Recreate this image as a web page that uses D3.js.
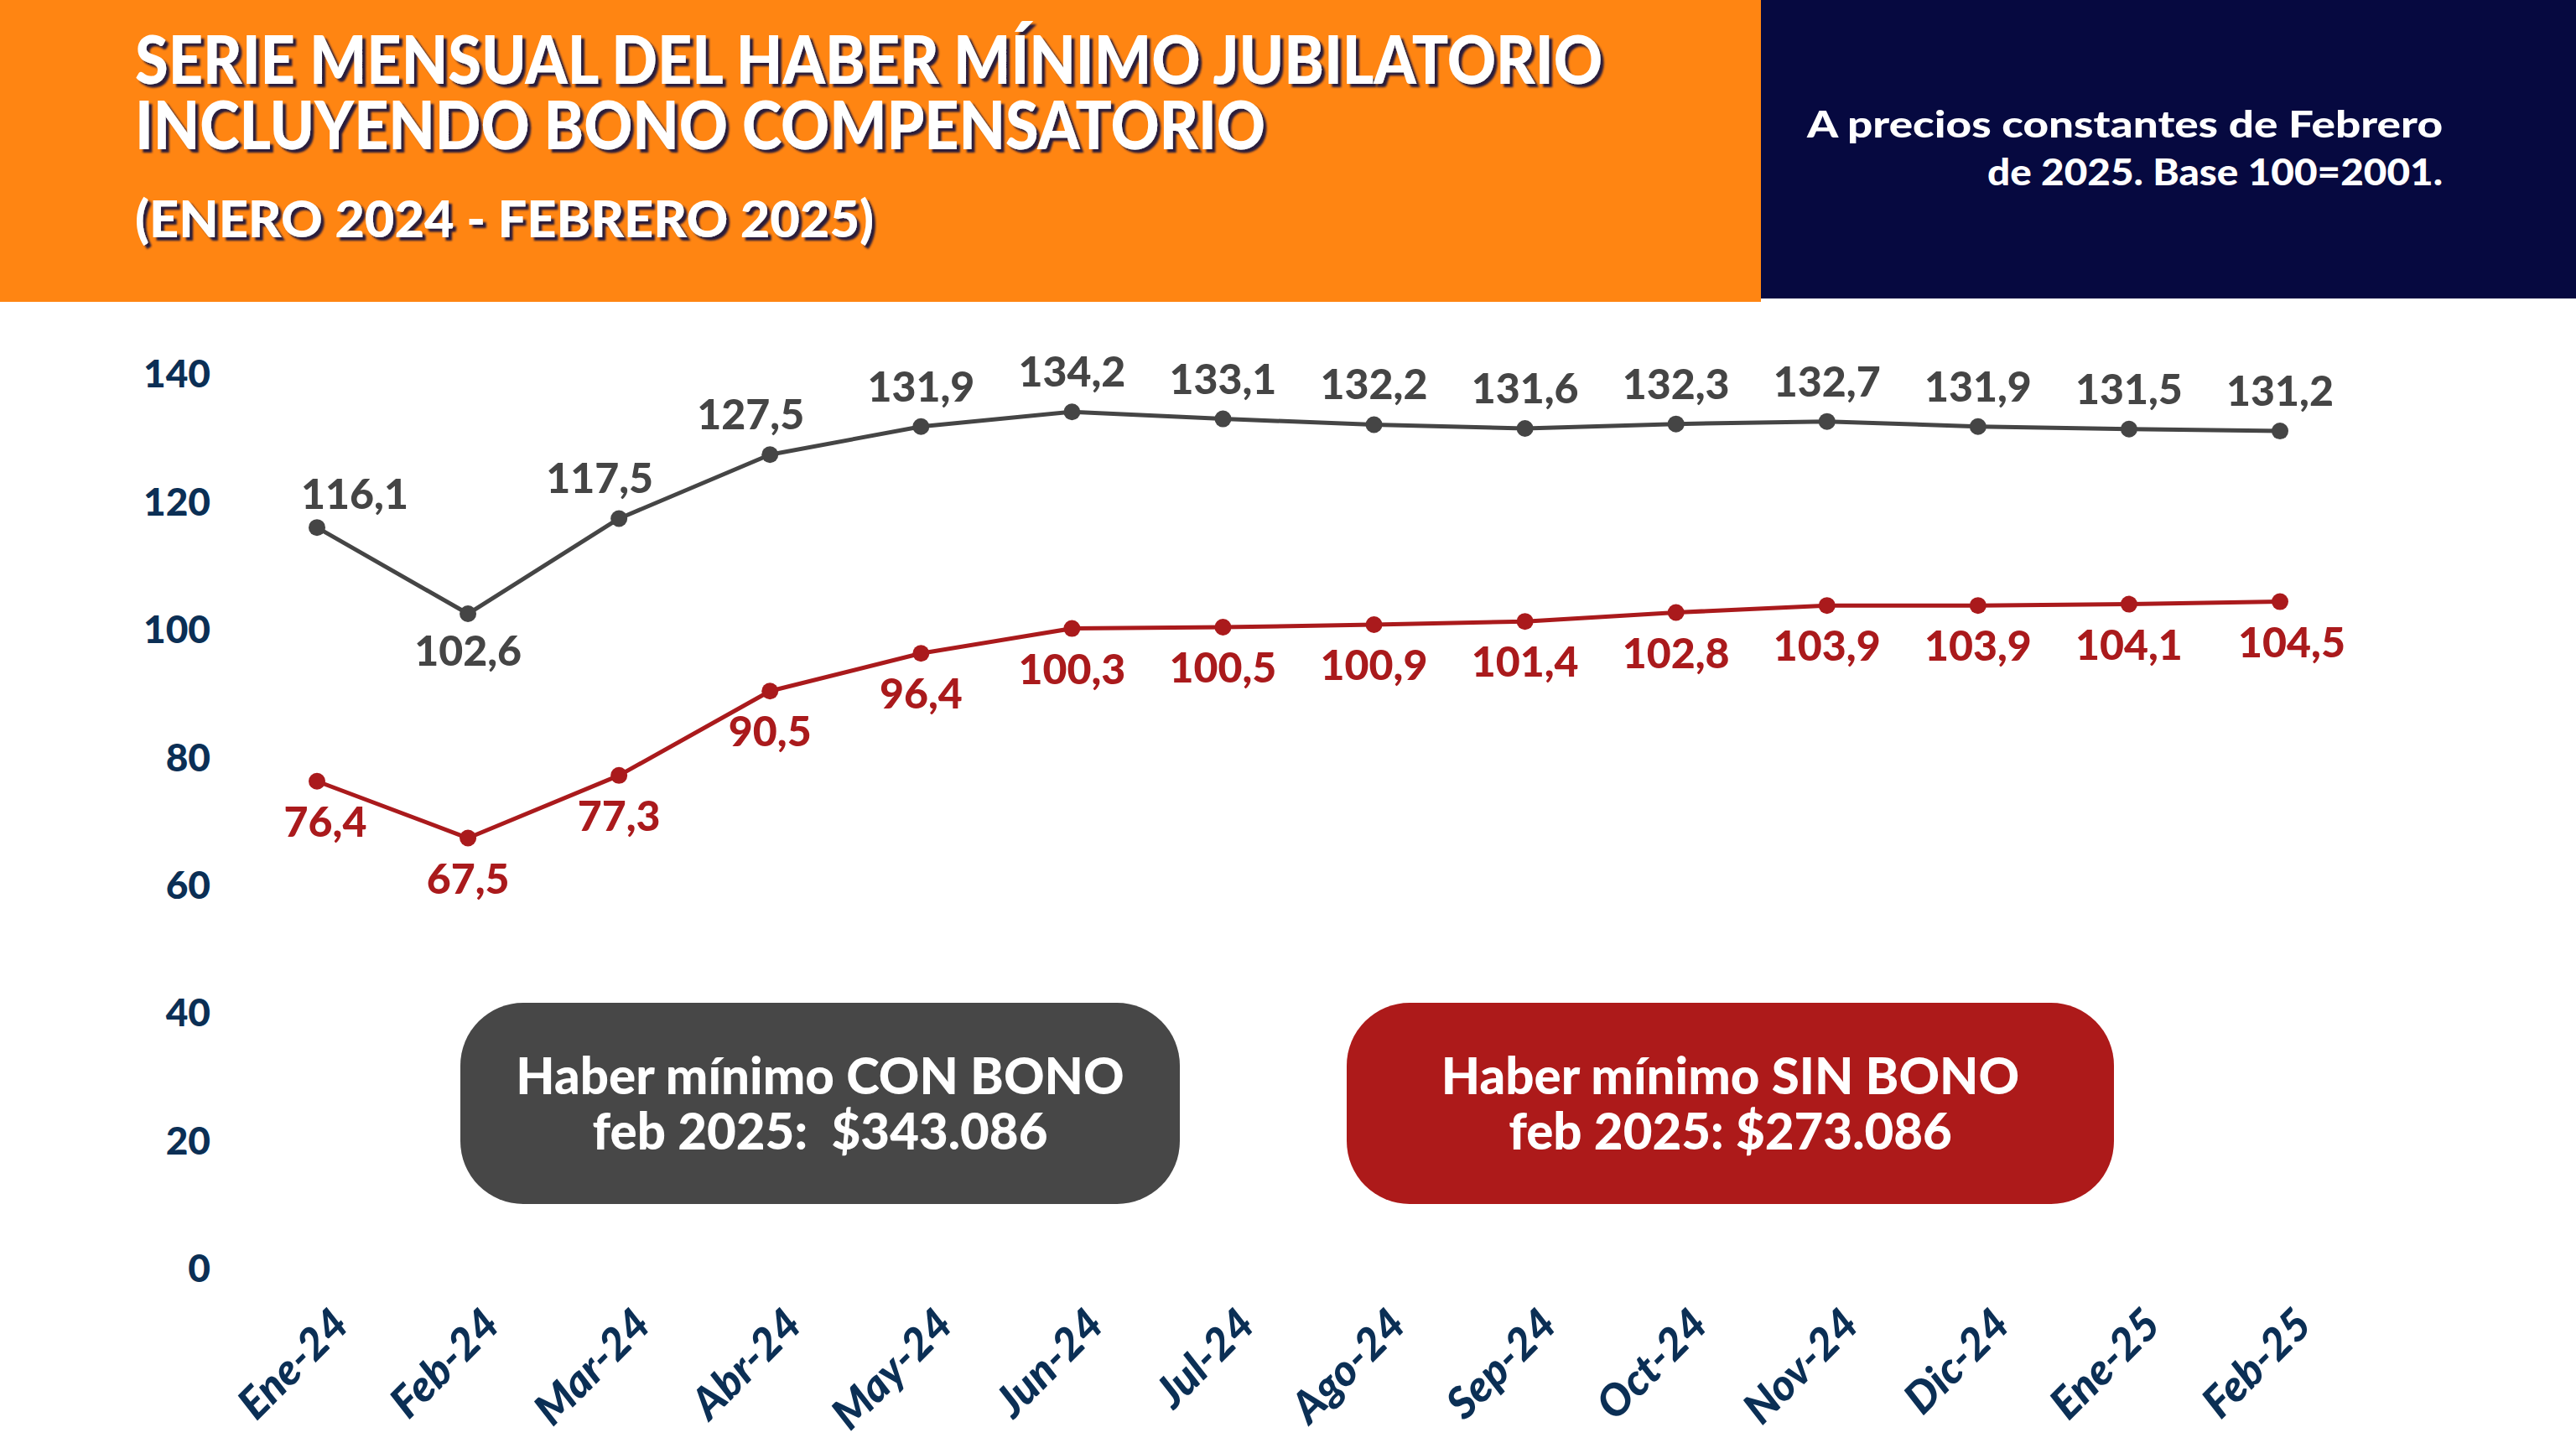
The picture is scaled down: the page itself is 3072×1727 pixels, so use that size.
<!DOCTYPE html>
<html>
<head>
<meta charset="utf-8">
<script src="https://cdn.jsdelivr.net/npm/d3@7"></script>
<style>
  body { margin: 0; background: #fff; }
  svg { display: block; font-family: Lato, "Open Sans", sans-serif; }
</style>
</head>
<body>
<div id="chart"></div>
<script>
// data
var months = ["Ene-24", "Feb-24", "Mar-24", "Abr-24", "May-24", "Jun-24", "Jul-24",
              "Ago-24", "Sep-24", "Oct-24", "Nov-24", "Dic-24", "Ene-25", "Feb-25"];
var conBono = [116.1, 102.6, 117.5, 127.5, 131.9, 134.2, 133.1,
               132.2, 131.6, 132.3, 132.7, 131.9, 131.5, 131.2];
var sinBono = [76.4, 67.5, 77.3, 90.5, 96.4, 100.3, 100.5,
               100.9, 101.4, 102.8, 103.9, 103.9, 104.1, 104.5];
var yTicks = [0, 20, 40, 60, 80, 100, 120, 140];

var titleLines = ["SERIE MENSUAL DEL HABER MÍNIMO JUBILATORIO", "INCLUYENDO BONO COMPENSATORIO"];
var subtitle = "(ENERO 2024 - FEBRERO 2025)";
var noteLines = ["A precios constantes de Febrero", "de 2025. Base 100=2001."];
var boxConLines = ["Haber mínimo CON BONO", "feb 2025:  $343.086"];
var boxSinLines = ["Haber mínimo SIN BONO", "feb 2025: $273.086"];

var W = 3072, H = 1727;
var grey = "#474747", red = "#aa1a1c", navy = "#0b2f55";
var fmt = function(v) { return d3.format(".1f")(v).replace(".", ","); };

var svg = d3.select("#chart").append("svg")
    .attr("width", W).attr("height", H)
    .attr("viewBox", "0 0 " + W + " " + H);

var defs = svg.append("defs");
defs.append("filter").attr("id", "shadow")
    .attr("x", "-5%").attr("y", "-20%").attr("width", "110%").attr("height", "150%")
  .append("feDropShadow")
    .attr("dx", 4).attr("dy", 4).attr("stdDeviation", 0.8)
    .attr("flood-color", "#2a1a3a").attr("flood-opacity", 1);

// header
svg.append("rect").attr("x", 0).attr("y", 0).attr("width", 2100).attr("height", 360)
    .attr("fill", "#ff8512");
svg.append("rect").attr("x", 2100).attr("y", 0).attr("width", W - 2100).attr("height", 356)
    .attr("fill", "#060940");

var titleWidths = [1750, 1348];
var header = svg.append("g").attr("font-weight", 900).attr("fill", "#fff")
    .attr("filter", "url(#shadow)");
titleLines.forEach(function(t, i) {
    header.append("text")
        .attr("x", 161).attr("y", 100 + i * 78)
        .attr("font-size", 80)
        .attr("textLength", titleWidths[i]).attr("lengthAdjust", "spacingAndGlyphs")
        .text(t);
});
header.append("text")
    .attr("x", 161).attr("y", 283)
    .attr("font-size", 60)
    .attr("textLength", 881).attr("lengthAdjust", "spacingAndGlyphs")
    .text(subtitle);

var noteWidths = [758, 543];
noteLines.forEach(function(t, i) {
    svg.append("text")
        .attr("x", 2913 - noteWidths[i]).attr("y", 164 + i * 57)
        .attr("font-size", 44).attr("font-weight", 900)
        .attr("textLength", noteWidths[i]).attr("lengthAdjust", "spacingAndGlyphs")
        .attr("fill", "#fff")
        .text(t);
});

// scales
var x = d3.scalePoint().domain(months).range([378, 2719]);
var y = d3.scaleLinear().domain([0, 140]).range([1514, 447]);

// y axis
var yAxis = svg.append("g").attr("transform", "translate(251,0)")
    .call(d3.axisLeft(y).tickValues(yTicks).tickSize(0).tickPadding(0));
yAxis.select(".domain").remove();
yAxis.selectAll("text")
    .attr("font-family", "Lato, sans-serif")
    .attr("font-size", 46).attr("font-weight", 900)
    .attr("fill", navy);

// x axis
var xAxis = svg.append("g").attr("transform", "translate(0,1583)")
    .call(d3.axisBottom(x).tickSize(0).tickPadding(0));
xAxis.select(".domain").remove();
xAxis.selectAll("text")
    .attr("font-family", "Lato, sans-serif")
    .attr("font-size", 52).attr("font-weight", 900).attr("font-style", "italic")
    .attr("fill", navy)
    .attr("text-anchor", "end")
    .attr("x", 0).attr("y", 0).attr("dy", 0)
    .attr("transform", "translate(40,0) rotate(-45)");

// lines
var line = d3.line()
    .x(function(d, i) { return x(months[i]); })
    .y(function(d) { return y(d); });

function drawSeries(values, color, below) {
    var g = svg.append("g");
    g.append("path").attr("d", line(values))
        .attr("fill", "none").attr("stroke", color).attr("stroke-width", 5)
        .attr("stroke-linejoin", "round");
    g.selectAll("circle").data(values).enter().append("circle")
        .attr("cx", function(d, i) { return x(months[i]); })
        .attr("cy", function(d) { return y(d); })
        .attr("r", 10).attr("fill", color);
    g.selectAll("text").data(values).enter().append("text")
        .attr("x", function(d, i) {
            var dx = 0;
            if (i === 0) dx = below ? 10 : 45;
            else if (!below && d - values[i - 1] > 5) dx = -23;
            if (i === values.length - 1 && below) dx = 14;
            return x(months[i]) + dx;
        })
        .attr("y", function(d, i) {
            // a sharp dip gets its label underneath
            var isDip = i > 0 && i < values.length - 1 &&
                values[i - 1] - d > 5 && values[i + 1] - d > 5;
            if (below || isDip) return y(d) + (below ? 66 : 62);
            if (i === 0) return y(d) - 22;
            return y(d) - 30;
        })
        .attr("text-anchor", "middle")
        .attr("font-size", 50).attr("font-weight", 900)
        .attr("fill", color)
        .text(function(d) { return fmt(d); });
}
drawSeries(conBono, "#454545", false);
drawSeries(sinBono, red, true);

// callout boxes
function drawBox(x0, x1, color, lines) {
    var g = svg.append("g");
    g.append("rect").attr("x", x0).attr("y", 1196).attr("width", x1 - x0).attr("height", 240)
        .attr("rx", 75).attr("ry", 75).attr("fill", color);
    lines.forEach(function(t, i) {
        g.append("text")
            .attr("x", (x0 + x1) / 2).attr("y", 1305 + i * 66)
            .attr("text-anchor", "middle")
            .attr("font-size", 60).attr("font-weight", 900)
            .attr("fill", "#fff")
            .attr("xml:space", "preserve")
            .text(t);
    });
}
drawBox(549, 1407, grey, boxConLines);
drawBox(1606, 2521, "#ad1a1a", boxSinLines);
</script>
</body>
</html>
